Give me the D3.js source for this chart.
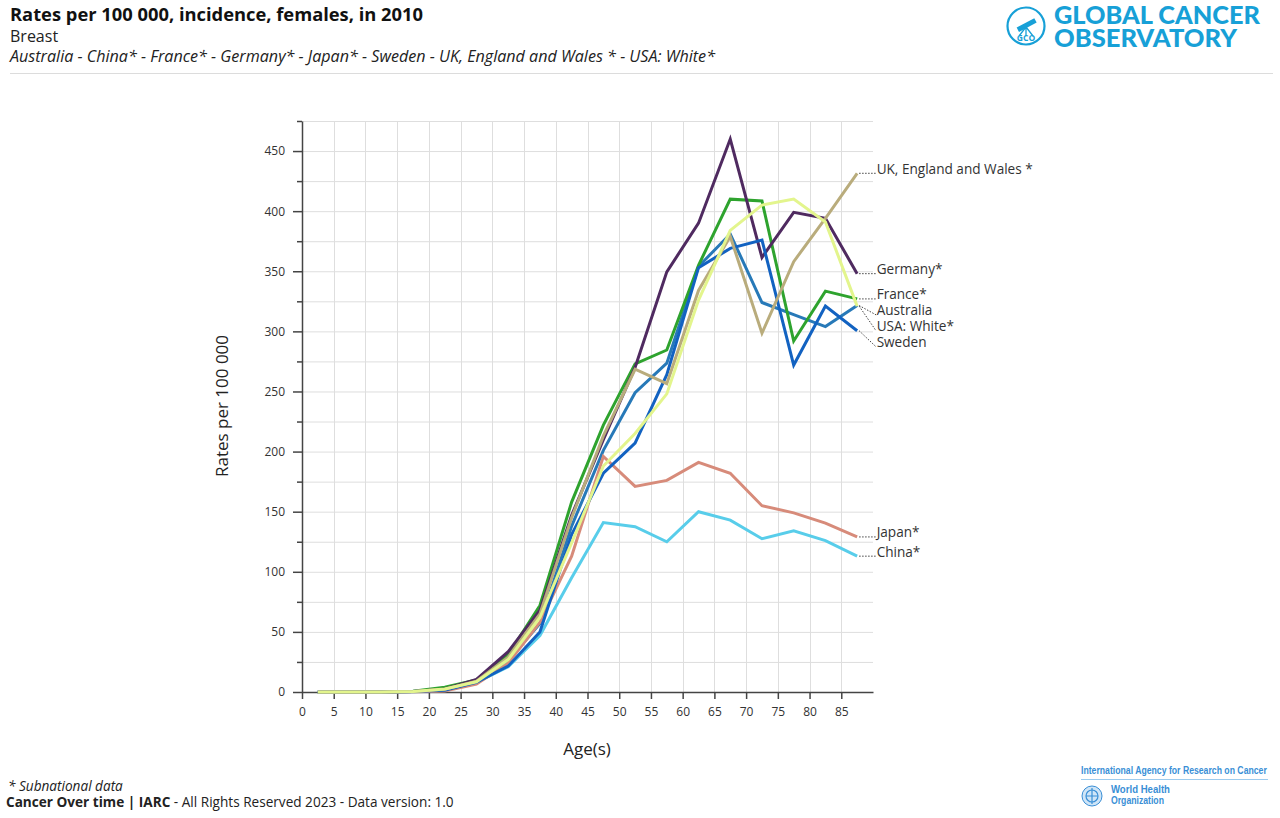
<!DOCTYPE html>
<html>
<head>
<meta charset="utf-8">
<script src="https://cdn.jsdelivr.net/npm/d3@7"></script>
<style>
  html, body { margin: 0; padding: 0; background: #fff; }
  svg { display: block; font-family: "Open Sans", "Noto Sans", sans-serif; }
</style>
</head>
<body>
<svg id="chart" width="1280" height="818"></svg>
<script>
// ---- data ----
const ages = [2.5, 7.5, 12.5, 17.5, 22.5, 27.5, 32.5, 37.5, 42.5, 47.5, 52.5, 57.5, 62.5, 67.5, 72.5, 77.5, 82.5, 87.5];
const xTicks = [0, 5, 10, 15, 20, 25, 30, 35, 40, 45, 50, 55, 60, 65, 70, 75, 80, 85];
const yTicks = [0, 50, 100, 150, 200, 250, 300, 350, 400, 450];
const countries = ["Australia", "China*", "France*", "Germany*", "Japan*", "Sweden", "UK, England and Wales *", "USA: White*"];
const australia = [0, 0, 0, 0.4, 2.5, 9, 26, 57, 138, 201, 249, 273.5, 354, 381, 324, 314, 304, 321.5];
const china     = [0, 0, 0, 0.3, 1.5, 8, 21, 47, 95, 141, 137.5, 125, 150, 143, 127.5, 134, 126, 113];
const france    = [0, 0, 0, 0.6, 3.9, 10, 31, 72, 158, 222, 273, 284.5, 355, 410, 408.5, 292, 333.5, 327];
const germany   = [0, 0, 0, 0.4, 2.5, 10.5, 33.5, 68, 147, 210, 270, 349.5, 390, 460, 361.5, 399, 394, 348];
const japan     = [0, 0, 0, 0.2, 0.8, 6.5, 24, 58, 113, 196, 171, 176, 191, 182, 155, 149, 140.5, 129];
const sweden    = [0, 0, 0, 0.5, 1.5, 8, 21.5, 50, 131, 182, 207, 264, 353, 369, 376, 272, 321, 300.5];
const uk        = [0, 0, 0, 0.4, 2.3, 9, 29, 65, 145, 213, 268.5, 256.5, 334, 379, 298.5, 358, 394, 431.5];
const usaWhite  = [0, 0, 0, 0.4, 2.5, 8.5, 27, 62, 124, 188, 215, 248, 326, 384, 405, 410, 391, 321];
const seriesValues = [australia, china, france, germany, japan, sweden, uk, usaWhite];
const colors = ["#2779b8", "#58cdea", "#2ea32e", "#4f2a60", "#d78b7a", "#1262c1", "#b9ac7c", "#e3f58d"];

// ---- layout ----
const svg = d3.select("#chart");
const plot = { left: 302, right: 873, top: 121, bottom: 692 };
const x = d3.scaleLinear().domain([0, 90]).range([plot.left, plot.right]);
const y = d3.scaleLinear().domain([0, 475]).range([plot.bottom, plot.top]);

// header
svg.append("text").attr("x", 10).attr("y", 21).attr("font-size", 18).attr("font-weight", 700)
  .attr("fill", "#111").attr("textLength", 413).attr("lengthAdjust", "spacingAndGlyphs")
  .text("Rates per 100 000, incidence, females, in 2010");
svg.append("text").attr("x", 10).attr("y", 42).attr("font-size", 16).attr("fill", "#222").text("Breast");
svg.append("text").attr("x", 10).attr("y", 62).attr("font-size", 15.5).attr("font-style", "italic")
  .attr("fill", "#222").attr("textLength", 705).attr("lengthAdjust", "spacingAndGlyphs")
  .text(countries.join(" - "));
svg.append("line").attr("x1", 10).attr("x2", 1273).attr("y1", 73.5).attr("y2", 73.5)
  .attr("stroke", "#dcdcdc").attr("stroke-width", 1);

// GCO logo
const blue = "#17a0d7";
const logo = svg.append("g").attr("transform", "translate(1026,26)");
logo.append("circle").attr("r", 18.5).attr("fill", "none").attr("stroke", blue).attr("stroke-width", 2.2);
logo.append("rect").attr("x", -9).attr("y", -3).attr("width", 20).attr("height", 5)
  .attr("fill", blue).attr("transform", "rotate(-28)");
logo.append("path").attr("d", "M0,1 L-7,10 M0,1 L0,10 M0,1 L7,10")
  .attr("stroke", blue).attr("stroke-width", 1.3).attr("fill", "none");
logo.append("text").attr("y", 15).attr("text-anchor", "middle").attr("font-size", 8.5)
  .attr("font-weight", 700).attr("fill", blue).text("GCO");
svg.append("text").attr("x", 1054).attr("y", 24).attr("font-family", "Lato, 'Open Sans', sans-serif")
  .attr("font-size", 24).attr("font-weight", 900).attr("fill", blue)
  .attr("textLength", 206).attr("lengthAdjust", "spacingAndGlyphs").text("GLOBAL CANCER");
svg.append("text").attr("x", 1054).attr("y", 47).attr("font-family", "Lato, 'Open Sans', sans-serif")
  .attr("font-size", 24).attr("font-weight", 900).attr("fill", blue)
  .attr("textLength", 183).attr("lengthAdjust", "spacingAndGlyphs").text("OBSERVATORY");

// grid
const g = svg.append("g");
const hGrid = d3.range(25, 476, 25);
g.selectAll("line.h").data(hGrid).join("line")
  .attr("x1", plot.left).attr("x2", plot.right)
  .attr("y1", d => y(d) + 0.5).attr("y2", d => y(d) + 0.5)
  .attr("stroke", "#dedede").attr("stroke-width", 1);
g.selectAll("line.v").data(xTicks.slice(1)).join("line")
  .attr("x1", d => Math.round(x(d)) + 0.5).attr("x2", d => Math.round(x(d)) + 0.5)
  .attr("y1", plot.top).attr("y2", plot.bottom)
  .attr("stroke", "#dedede").attr("stroke-width", 1);

// axes
const yAxis = svg.append("g").attr("transform", `translate(${plot.left},0)`)
  .call(d3.axisLeft(y).tickValues(yTicks).tickSize(9).tickPadding(8).tickSizeOuter(0));
const yMinor = svg.append("g").attr("transform", `translate(${plot.left},0)`)
  .call(d3.axisLeft(y).tickValues(d3.range(25, 476, 50)).tickSize(5).tickFormat("").tickSizeOuter(0));
const xAxis = svg.append("g").attr("transform", `translate(0,${plot.bottom})`)
  .call(d3.axisBottom(x).tickValues(xTicks).tickSize(7).tickPadding(8).tickSizeOuter(0));
[yAxis, yMinor, xAxis].forEach(a => {
  a.select(".domain").attr("stroke", "#444").attr("stroke-width", 1.5);
  a.selectAll(".tick line").attr("stroke", "#444").attr("stroke-width", 1.5);
  a.selectAll(".tick text").attr("font-size", 12).attr("fill", "#333")
    .attr("font-family", "'Open Sans', 'Noto Sans', sans-serif");
});
yMinor.select(".domain").remove();

// axis titles
svg.append("text").attr("transform", "translate(228,406) rotate(-90)").attr("text-anchor", "middle")
  .attr("font-size", 17).attr("fill", "#222").text("Rates per 100 000");
svg.append("text").attr("x", 587).attr("y", 755).attr("text-anchor", "middle")
  .attr("font-size", 17).attr("fill", "#222").text("Age(s)");

// lines
const line = d3.line().x((d, i) => x(ages[i])).y(d => y(d));
const series = countries.map((c, i) => ({ name: c, values: seriesValues[i], color: colors[i] }));
svg.append("g").selectAll("path").data(series).join("path")
  .attr("d", d => line(d.values)).attr("fill", "none")
  .attr("stroke", d => d.color).attr("stroke-width", 3).attr("stroke-linejoin", "miter");

// end labels with collision avoidance
const lastX = x(ages[ages.length - 1]);
const labels = series.map(s => ({ name: s.name, yEnd: y(s.values[s.values.length - 1]) }))
  .sort((a, b) => a.yEnd - b.yEnd);
labels.forEach((l, i) => {
  l.yLab = i === 0 ? l.yEnd : Math.max(l.yEnd, labels[i - 1].yLab + 16);
});
const lg = svg.append("g");
lg.selectAll("line").data(labels).join("line")
  .attr("x1", lastX + 2).attr("y1", d => d.yEnd).attr("x2", lastX + 19).attr("y2", d => d.yLab)
  .attr("stroke", "#444").attr("stroke-width", 1).attr("stroke-dasharray", "1.5,1.5");
lg.selectAll("text").data(labels).join("text")
  .attr("x", lastX + 19.5).attr("y", d => d.yLab + 0.5).attr("font-size", 13.6).attr("fill", "#333")
  .text(d => d.name);

// footer
svg.append("text").attr("x", 8).attr("y", 791).attr("font-size", 13.6).attr("font-style", "italic")
  .attr("fill", "#222").text("* Subnational data");
const f = svg.append("text").attr("x", 6).attr("y", 807).attr("font-size", 13.6).attr("fill", "#222");
f.append("tspan").attr("font-weight", 700).text("Cancer Over time | IARC");
f.append("tspan").text(" - All Rights Reserved 2023 - Data version: 1.0");

// IARC / WHO logo (text squeezed horizontally to logo width)
const iarcBlue = "#3a8fd6";
function squeezed(txt, x0, y0, size, width) {
  const t = svg.append("text").attr("font-family", "'Liberation Sans', Arial, sans-serif")
    .attr("font-size", size).attr("font-weight", 700).attr("fill", iarcBlue).text(txt);
  const w = t.node().getComputedTextLength();
  t.attr("transform", `translate(${x0},${y0}) scale(${width / w},1)`);
}
squeezed("International Agency for Research on Cancer", 1081, 774, 10.5, 186);
svg.append("line").attr("x1", 1081).attr("x2", 1268).attr("y1", 779.5).attr("y2", 779.5)
  .attr("stroke", "#9ccbee").attr("stroke-width", 1);
const who = svg.append("g").attr("transform", "translate(1092,796)");
who.append("circle").attr("r", 10).attr("fill", "#cfe5f7").attr("stroke", iarcBlue).attr("stroke-width", 1);
who.append("circle").attr("r", 6).attr("fill", "none").attr("stroke", iarcBlue).attr("stroke-width", 1.2);
who.append("line").attr("x1", 0).attr("x2", 0).attr("y1", -8).attr("y2", 8).attr("stroke", iarcBlue).attr("stroke-width", 1.2);
who.append("line").attr("x1", -6).attr("x2", 6).attr("y1", 0).attr("y2", 0).attr("stroke", iarcBlue).attr("stroke-width", 1);
squeezed("World Health", 1111, 793, 11, 59);
squeezed("Organization", 1111, 804, 11, 53);
</script>
</body>
</html>
